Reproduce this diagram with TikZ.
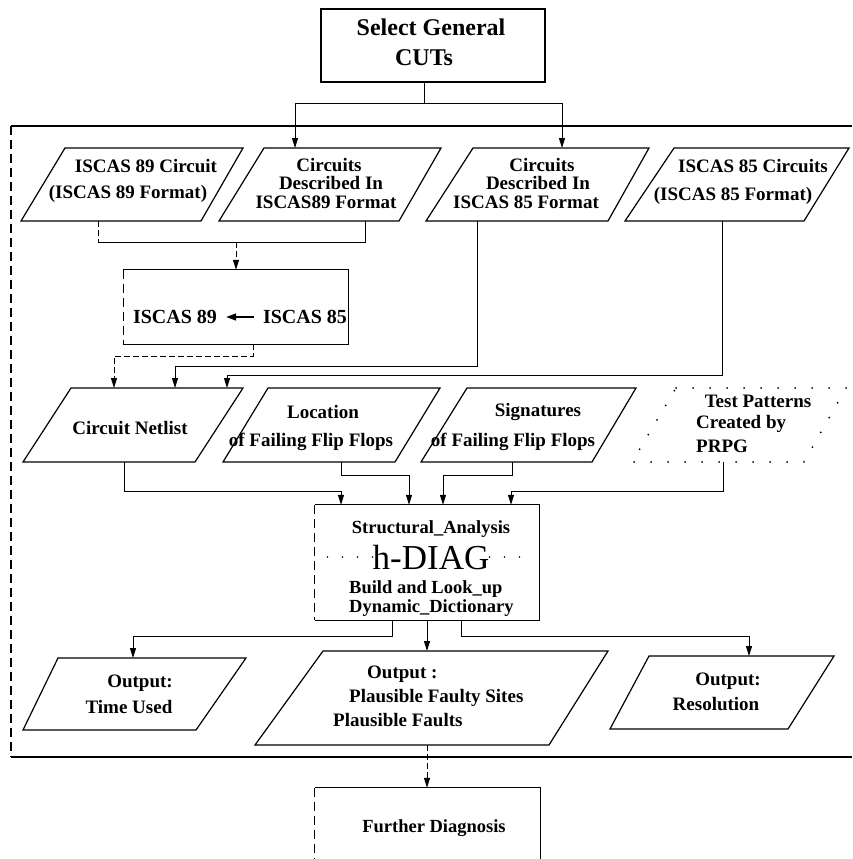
\documentclass[tikz,border=0pt]{standalone}
\usepackage{fontspec}
\setmainfont{Liberation Serif}
\usetikzlibrary{arrows.meta}
\begin{document}
\begin{tikzpicture}[x=1pt,y=-1pt,
  frame/.style={line width=1.2pt},
  broken/.style={frame,dash pattern=on 9pt off 5pt},
  conn/.style={line width=1pt},
  arr/.style={conn,-{Triangle[length=10pt,width=6pt]}},
  txt/.style={inner sep=0pt,font=\fontsize{19}{21}\selectfont\bfseries},
  bigtxt/.style={inner sep=0pt,font=\fontsize{24}{28}\selectfont\bfseries},
  midtxt/.style={inner sep=0pt,font=\fontsize{18.5}{20}\selectfont\bfseries},
  hdiag/.style={inner sep=0pt,font=\fontsize{35}{37}\selectfont},
  boxnode/.style={inner sep=0pt},
  dotline/.style={line width=1.6pt,line cap=round,dash pattern=on 0pt off 15pt},
  dotborder/.style={line width=2pt,line cap=round,dash pattern=on 0pt off 17pt},
]
\useasboundingbox (0,0) rectangle (852,859);
\clip (0,0) rectangle (852,859);

% ---------- top box ----------
\node[draw,frame,boxnode,minimum width=224pt,minimum height=73pt] (cuts) at (433,45.5) {};
\node[bigtxt] (cutsA) at (431,27) {Select General};
\node[bigtxt] (cutsB) at (424,58) {CUTs};

% ---------- enclosing frame ----------
\coordinate (ctr) at (852,126);
\coordinate (ctl) at (11,126);
\coordinate (cbl) at (11,757);
\coordinate (cbr) at (852,757);
\draw[frame] (ctr) -- (ctl);
\draw[broken] (ctl) -- (cbl);
\draw[frame] (cbl) -- (cbr);

% ---------- source circuits ----------
\draw[frame] (21,221) -- (65,148) -- (243,148) -- (201,221) -- cycle;
\node[txt] (p1a) at (146,166) {ISCAS 89 Circuit};
\node[txt] (p1b) at (128,194) {(ISCAS 89 Format)};

\draw[frame] (219,221) -- (264,148) -- (441,148) -- (399,221) -- cycle;
\node[txt] (p2a) at (329,165) {Circuits};
\node[txt] (p2b) at (331,183) {Described In};
\node[txt] (p2c) at (326,202) {ISCAS89 Format};

\draw[frame] (426,221) -- (473,148) -- (649,148) -- (608,221) -- cycle;
\node[txt] (p3a) at (542,165) {Circuits};
\node[txt] (p3b) at (538,183) {Described In};
\node[txt] (p3c) at (526,202) {ISCAS 85 Format};

\draw[frame] (625,221) -- (674,148) -- (849,148) -- (804,221) -- cycle;
\node[txt] (p4a) at (753,166) {ISCAS 85 Circuits};
\node[txt] (p4b) at (733,196) {(ISCAS 85 Format)};

% split below the top box
\coordinate (split) at (424,103);
\coordinate (in2) at (295,148);
\coordinate (in3) at (562,148);
\draw[conn] (cuts.south -| split) -- (split);
\draw[arr] (split) -| (in2);
\draw[arr] (split) -| (in3);

% ---------- format conversion ----------
\node[boxnode,minimum width=225pt,minimum height=74pt] (conv) at (236,307) {};
\draw[frame] (conv.south west) -- (conv.south east) -- (conv.north east) -- (conv.north west);
\draw[broken] (conv.north west) -- (conv.south west);
\node[txt,font=\fontsize{20}{22}\selectfont\bfseries] (c89) at (175,317) {ISCAS 89};
\node[txt,font=\fontsize{20}{22}\selectfont\bfseries] (c85) at (305,317) {ISCAS 85};
\draw[line width=1.5pt,-{Triangle[length=10pt,width=7pt]},shorten <=9pt,shorten >=9pt] (c85.west) -- (c89.east);

\coordinate (p1s) at (98,221);
\coordinate (p2s) at (365,221);
\coordinate (j12) at (236,242);
\draw[conn,dash pattern=on 6pt off 3pt] (p1s) -- (p1s |- j12);
\draw[conn] (p1s |- j12) -- (j12);
\draw[conn] (p2s) |- (j12);
\draw[arr,dash pattern=on 6pt off 3pt] (j12) -- (conv.north);

% ---------- analysis inputs ----------
\draw[frame] (23,462) -- (71,388) -- (243,388) -- (195,462) -- cycle;
\node[txt] (na) at (130,428) {Circuit Netlist};

\draw[frame] (223,462) -- (268,388) -- (440,388) -- (395,462) -- cycle;
\node[txt] (la) at (323,412) {Location};
\node[txt] (lb) at (311,442) {of Failing Flip Flops};

\draw[frame] (421,462) -- (467,388) -- (636,388) -- (592,462) -- cycle;
\node[txt] (sa1) at (538,412) {Signatures};
\node[txt] (sb1) at (513,442) {of Failing Flip Flops};

\draw[dotborder] (676,388) -- (846,388) -- (804,462) -- (632,462) -- cycle;
\node[txt] (ta) at (758,401) {Test Patterns};
\node[txt,anchor=west] (tb) at (696,424) {Created by};
\node[txt,anchor=west] (tc) at (696,446) {PRPG};

% into the netlist
\coordinate (cvo) at (253,344);
\coordinate (k1) at (114,356);
\coordinate (n1) at (114,388);
\draw[arr,dash pattern=on 6pt off 3pt] (cvo) |- (k1) -- (n1);
\coordinate (p3s) at (477,221);
\coordinate (k2) at (175,366);
\coordinate (n2) at (175,388);
\draw[arr] (p3s) |- (k2) -- (n2);
\coordinate (p4s) at (722,221);
\coordinate (k3) at (227,375);
\coordinate (n3) at (227,388);
\draw[arr] (p4s) |- (k3) -- (n3);

% ---------- h-DIAG ----------
\node[boxnode,minimum width=224pt,minimum height=115pt] (sa) at (427,562.5) {};
\draw[frame] (sa.south west) -- (sa.south east) -- (sa.north east) -- (sa.north west);
\draw[broken] (sa.north west) -- (sa.south west);
\node[midtxt] (sta) at (431,529) {Structural\_Analysis};
\node[hdiag,text depth=0pt] (hd) at (431,557) {h-DIAG};
\node[midtxt,anchor=west] (bl) at (349,589) {Build and Look\_up};
\node[midtxt,anchor=west] (dd) at (349,608) {Dynamic\_Dictionary};
\draw[dotline] (hd.west) -- (sa.west |- hd.west);
\draw[dotline] (hd.east) -- ([xshift=-12pt]sa.east |- hd.east);

\coordinate (ns) at (124,462);
\coordinate (m1) at (341,491);
\draw[arr] (ns) |- (m1) -- (m1 |- sa.north);
\coordinate (ls) at (341,462);
\coordinate (m2) at (409,475);
\draw[arr] (ls) |- (m2) -- (m2 |- sa.north);
\coordinate (ss) at (512,462);
\coordinate (m3) at (443,475);
\draw[arr] (ss) |- (m3) -- (m3 |- sa.north);
\coordinate (ts) at (723,462);
\coordinate (m4) at (511,491);
\draw[arr] (ts) |- (m4) -- (m4 |- sa.north);

% ---------- outputs ----------
\draw[frame] (23,730) -- (58,658) -- (246,658) -- (196,730) -- cycle;
\node[txt] (o1a) at (140,683) {Output:};
\node[txt] (o1b) at (129,707) {Time Used};

\draw[frame] (255,745) -- (323,651) -- (608,651) -- (549,745) -- cycle;
\node[txt,anchor=west] (o2a) at (367,674) {Output :};
\node[txt,anchor=west] (o2b) at (349,698) {Plausible Faulty Sites};
\node[txt,anchor=west] (o2c) at (333,720) {Plausible Faults};

\draw[frame] (610,729) -- (649,656) -- (834,656) -- (788,729) -- cycle;
\node[txt] (o3a) at (728,681) {Output:};
\node[txt] (o3b) at (716,704) {Resolution};

\coordinate (q1) at (392,636);
\coordinate (t1) at (133,658);
\draw[arr] (sa.south -| q1) |- (t1 |- q1) -- (t1);
\coordinate (t2) at (427,651);
\draw[arr] (sa.south -| t2) -- (t2);
\coordinate (q3) at (461,636);
\coordinate (t3) at (749,656);
\draw[arr] (sa.south -| q3) |- (t3 |- q3) -- (t3);

% ---------- further diagnosis ----------
\node[boxnode,minimum width=225pt,minimum height=90pt] (fd) at (427.5,833) {};
\draw[frame] (fd.south east) -- (fd.north east) -- (fd.north west);
\draw[broken] (fd.north west) -- (fd.south west);
\node[midtxt] (fdt) at (434,828) {Further Diagnosis};
\coordinate (o2s) at (427,745);
\draw[arr,dash pattern=on 6pt off 3pt] (o2s) -- (fd.north -| o2s);
\end{tikzpicture}
\end{document}
